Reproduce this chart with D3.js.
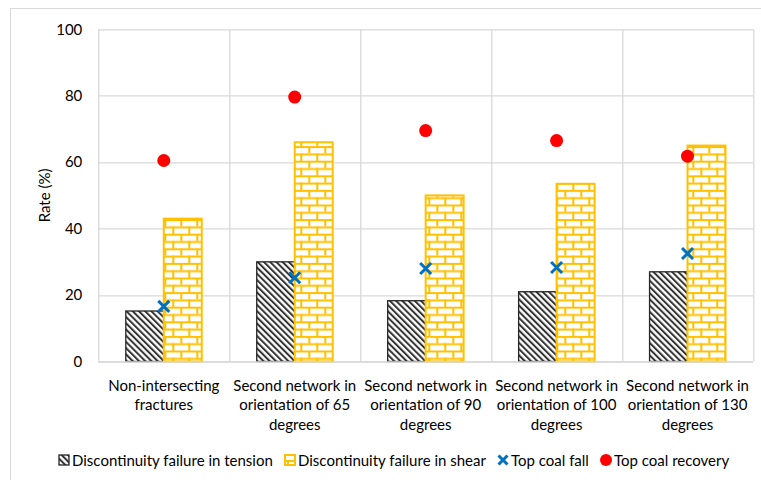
<!DOCTYPE html>
<html>
<head>
<meta charset="utf-8">
<script src="https://cdn.jsdelivr.net/npm/d3@7"></script>
<style>
  html, body { margin: 0; padding: 0; background: #fff; }
  svg { display: block; font-family: Lato, "Open Sans", sans-serif; }
</style>
</head>
<body>
<svg id="chart" width="761" height="480"></svg>
<script>
// Categories (multi-line labels)
const categories = [
  ["Non-intersecting", "fractures"],
  ["Second network in", "orientation of 65", "degrees"],
  ["Second network in", "orientation of 90", "degrees"],
  ["Second network in", "orientation of 100", "degrees"],
  ["Second network in", "orientation of 130", "degrees"]
];
const tension = [15.2, 30.0, 18.3, 21.0, 27.0];
const shear = [43.0, 66.0, 50.0, 53.5, 65.0];
const coalFall = [16.6, 25.2, 28.0, 28.3, 32.5];
const coalRecovery = [60.5, 79.6, 69.5, 66.5, 61.8];
const yTicks = [0, 20, 40, 60, 80, 100];
const seriesNames = ["Discontinuity failure in tension", "Discontinuity failure in shear", "Top coal fall", "Top coal recovery"];

const svg = d3.select("#chart");
const margin = { left: 98.3, right: 8, top: 29.3, bottom: 118.5 };
const W = 761, H = 480;
const plotW = W - margin.left - margin.right;
const plotH = H - margin.top - margin.bottom;

// Outer chart frame
svg.append("rect").attr("x", 10.5).attr("y", 8.5).attr("width", 760).attr("height", 480)
  .attr("fill", "none").attr("stroke", "#d9d9d9").attr("stroke-width", 1);

// Patterns
const defs = svg.append("defs");
const hatch = defs.append("pattern").attr("id", "hatch").attr("patternUnits", "userSpaceOnUse")
  .attr("width", 4.4).attr("height", 4.4).attr("patternTransform", "rotate(-45)");
hatch.append("rect").attr("width", 4.4).attr("height", 4.4).attr("fill", "#fff");
hatch.append("rect").attr("x", 0).attr("y", 0).attr("width", 2).attr("height", 4.4).attr("fill", "#333");

const brick = defs.append("pattern").attr("id", "brick").attr("patternUnits", "userSpaceOnUse")
  .attr("width", 16).attr("height", 14.6);
brick.append("rect").attr("width", 16).attr("height", 14.6).attr("fill", "#fff");
brick.append("rect").attr("x", 0).attr("y", 0).attr("width", 16).attr("height", 2).attr("fill", "#FFC000");
brick.append("rect").attr("x", 0).attr("y", 7.3).attr("width", 16).attr("height", 2).attr("fill", "#FFC000");
brick.append("rect").attr("x", 2).attr("y", 0).attr("width", 2).attr("height", 7.3).attr("fill", "#FFC000");
brick.append("rect").attr("x", 10).attr("y", 7.3).attr("width", 2).attr("height", 7.3).attr("fill", "#FFC000");

const g = svg.append("g").attr("transform", `translate(${margin.left},${margin.top})`);

const x = d3.scaleBand().domain(d3.range(categories.length)).range([0, plotW]).padding(0);
const y = d3.scaleLinear().domain([0, 100]).range([plotH, 0]);

// Horizontal gridlines
g.append("g").selectAll("line").data(yTicks).join("line")
  .attr("x1", 0).attr("x2", plotW)
  .attr("y1", d => Math.round(y(d)) + 0.5).attr("y2", d => Math.round(y(d)) + 0.5)
  .attr("stroke", "#d9d9d9").attr("stroke-width", 1.3);

// Vertical category separators
g.append("g").selectAll("line").data(d3.range(categories.length + 1)).join("line")
  .attr("x1", d => Math.round(d < categories.length ? x(d) : plotW) + 0.5)
  .attr("x2", d => Math.round(d < categories.length ? x(d) : plotW) + 0.5)
  .attr("y1", 0).attr("y2", plotH)
  .attr("stroke", "#d9d9d9").attr("stroke-width", 1.3);

// Y axis tick labels
const yAxis = d3.axisLeft(y).tickValues(yTicks).tickSize(0).tickPadding(16);
const ya = g.append("g").call(yAxis);
ya.select(".domain").remove();
ya.selectAll("text").attr("font-family", "Lato, sans-serif").attr("font-size", 15).attr("fill", "#000");

// Y axis title
svg.append("text").attr("transform", `translate(50,${margin.top + plotH / 2}) rotate(-90)`)
  .attr("text-anchor", "middle").attr("font-size", 15).attr("fill", "#000").text("Rate (%)");

const barW = x.bandwidth() * 0.29;

// Tension bars
g.append("g").selectAll("rect").data(tension).join("rect")
  .attr("x", (d, i) => x(i) + x.bandwidth() / 2 - barW)
  .attr("y", d => y(d)).attr("width", barW).attr("height", d => plotH - y(d))
  .attr("fill", "url(#hatch)").attr("stroke", "#262626").attr("stroke-width", 1.3);

// Shear bars
g.append("g").selectAll("rect").data(shear).join("rect")
  .attr("x", (d, i) => x(i) + x.bandwidth() / 2)
  .attr("y", d => y(d)).attr("width", barW).attr("height", d => plotH - y(d))
  .attr("fill", "url(#brick)").attr("stroke", "#FFC000").attr("stroke-width", 2);

// Top coal fall markers (X)
const xm = 5.5;
g.append("g").selectAll("path").data(coalFall).join("path")
  .attr("d", (d, i) => {
    const cx = x(i) + x.bandwidth() / 2, cy = y(d);
    return `M${cx - xm},${cy - xm}L${cx + xm},${cy + xm}M${cx - xm},${cy + xm}L${cx + xm},${cy - xm}`;
  })
  .attr("stroke", "#0070C0").attr("stroke-width", 3).attr("fill", "none");

// Top coal recovery markers (circle)
g.append("g").selectAll("circle").data(coalRecovery).join("circle")
  .attr("cx", (d, i) => x(i) + x.bandwidth() / 2).attr("cy", d => y(d)).attr("r", 6.5)
  .attr("fill", "#FF0000");

// Bottom axis line
g.append("line").attr("x1", 0).attr("x2", plotW).attr("y1", plotH + 0.5).attr("y2", plotH + 0.5)
  .attr("stroke", "#d9d9d9").attr("stroke-width", 1.3);

// Category labels
const cl = g.append("g").selectAll("text").data(categories).join("text")
  .attr("text-anchor", "middle").attr("font-size", 15).attr("fill", "#000")
  .attr("transform", (d, i) => `translate(${x(i) + x.bandwidth() / 2},${plotH + 29})`);
cl.selectAll("tspan").data(d => d).join("tspan")
  .attr("x", 0).attr("dy", (d, j) => j === 0 ? 0 : 19.5).text(d => d);

// Legend
const legendY = 460;
const leg = svg.append("g");
const items = [
  { x: 59, name: seriesNames[0], type: "hatch" },
  { x: 285, name: seriesNames[1], type: "brick" },
  { x: 498, name: seriesNames[2], type: "x" },
  { x: 600, name: seriesNames[3], type: "circle" }
];
items.forEach(it => {
  const gi = leg.append("g").attr("transform", `translate(${it.x},${legendY})`);
  if (it.type === "hatch") {
    gi.append("rect").attr("x", 0).attr("y", -5).attr("width", 10).attr("height", 10)
      .attr("fill", "url(#hatch)").attr("stroke", "#262626").attr("stroke-width", 1.3);
  } else if (it.type === "brick") {
    gi.append("rect").attr("x", 0).attr("y", -5).attr("width", 10).attr("height", 10)
      .attr("fill", "url(#brick)").attr("stroke", "#FFC000").attr("stroke-width", 2);
  } else if (it.type === "x") {
    const s = 4.5, c = 5;
    gi.append("path").attr("d", `M${c - s},${-s}L${c + s},${s}M${c - s},${s}L${c + s},${-s}`)
      .attr("stroke", "#0070C0").attr("stroke-width", 3);
  } else {
    gi.append("circle").attr("cx", 6).attr("cy", 0).attr("r", 6).attr("fill", "#FF0000");
  }
  gi.append("text").attr("x", it.type === "circle" ? 14 : 13).attr("y", 5.5)
    .attr("font-size", 15).attr("fill", "#000").text(it.name);
});
</script>
</body>
</html>
